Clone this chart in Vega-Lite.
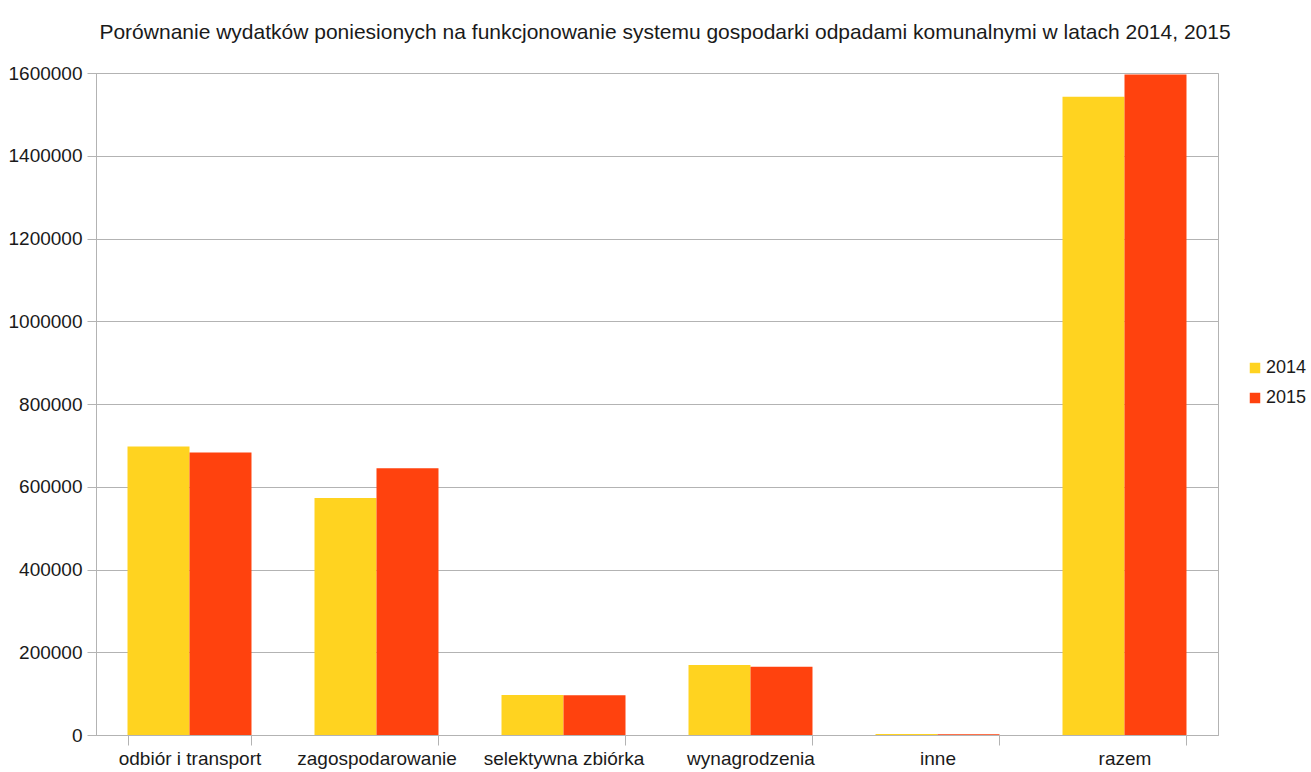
{
  "$schema": "https://vega.github.io/schema/vega-lite/v6.json",
  "width": 1122,
  "height": 662,
  "autosize": {"type": "none"},
  "padding": {"left": 96, "top": 73, "right": 93, "bottom": 37},
  "background": "white",
  "title": {
    "text": "Porównanie wydatków poniesionych na funkcjonowanie systemu gospodarki odpadami komunalnymi w latach 2014, 2015",
    "font": "Liberation Sans",
    "fontSize": 21,
    "fontWeight": "normal",
    "color": "#1a1a1a",
    "anchor": "middle",
    "dx": 8,
    "offset": 21
  },
  "config": {
    "view": {"stroke": "#b3b3b3", "strokeWidth": 1},
    "font": "Liberation Sans"
  },
  "data": {
    "values": [
      {"kategoria": "odbiór i transport", "rok": "2014", "wartosc": 697000},
      {"kategoria": "odbiór i transport", "rok": "2015", "wartosc": 683000},
      {"kategoria": "zagospodarowanie", "rok": "2014", "wartosc": 573000},
      {"kategoria": "zagospodarowanie", "rok": "2015", "wartosc": 644500},
      {"kategoria": "selektywna zbiórka", "rok": "2014", "wartosc": 96500},
      {"kategoria": "selektywna zbiórka", "rok": "2015", "wartosc": 95800},
      {"kategoria": "wynagrodzenia", "rok": "2014", "wartosc": 169000},
      {"kategoria": "wynagrodzenia", "rok": "2015", "wartosc": 165000},
      {"kategoria": "inne", "rok": "2014", "wartosc": 2500},
      {"kategoria": "inne", "rok": "2015", "wartosc": 1800},
      {"kategoria": "razem", "rok": "2014", "wartosc": 1542500},
      {"kategoria": "razem", "rok": "2015", "wartosc": 1596500}
    ]
  },
  "mark": {"type": "bar"},
  "encoding": {
    "x": {
      "field": "kategoria",
      "type": "nominal",
      "sort": null,
      "scale": {"paddingInner": 0.337, "paddingOuter": 0.1685},
      "axis": {
        "title": null,
        "labelAngle": 0,
        "labelFontSize": 19,
        "labelColor": "#1a1a1a",
        "labelPadding": 4,
        "tickBand": "extent",
        "tickSize": 10,
        "tickColor": "#b3b3b3",
        "domainColor": "#b3b3b3",
        "grid": false
      }
    },
    "xOffset": {"field": "rok", "type": "nominal", "scale": {"paddingInner": 0, "paddingOuter": 0}},
    "y": {
      "field": "wartosc",
      "type": "quantitative",
      "scale": {"domain": [0, 1600000], "nice": false},
      "axis": {
        "title": null,
        "values": [0, 200000, 400000, 600000, 800000, 1000000, 1200000, 1400000, 1600000],
        "format": "d",
        "labelFontSize": 19,
        "labelColor": "#1a1a1a",
        "labelPadding": 5,
        "tickSize": 9,
        "tickColor": "#b3b3b3",
        "domainColor": "#b3b3b3",
        "gridColor": "#b3b3b3",
        "gridOpacity": 1
      }
    },
    "color": {
      "field": "rok",
      "type": "nominal",
      "scale": {"domain": ["2014", "2015"], "range": ["#ffd320", "#ff420e"]},
      "legend": {
        "title": null,
        "orient": "none",
        "legendX": 1150,
        "legendY": 286,
        "symbolType": "square",
        "symbolSize": 110,
        "symbolStrokeWidth": 0,
        "labelFontSize": 18,
        "labelColor": "#1a1a1a",
        "labelOffset": 2,
        "rowPadding": 12
      }
    }
  }
}
